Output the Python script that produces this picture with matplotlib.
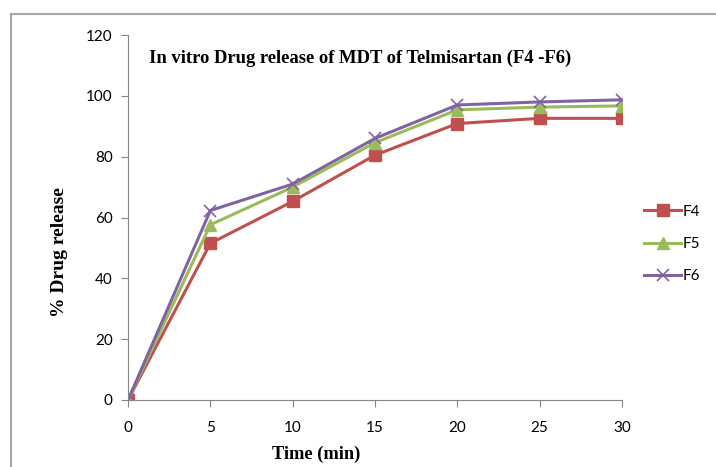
import matplotlib.pyplot as plt
from matplotlib.lines import Line2D

# Data
time_min = [0, 5, 10, 15, 20, 25, 30]
f4 = [0, 51.5, 65.3, 80.5, 90.9, 92.6, 92.6]
f5 = [0, 57.6, 70.0, 84.6, 95.4, 96.3, 96.7]
f6 = [0, 62.3, 71.0, 86.0, 97.0, 98.0, 98.7]

fig = plt.figure(figsize=(7.16, 4.67), dpi=100)
ax = fig.add_axes([0.1788, 0.1435, 0.6899, 0.7815])

ax.plot(time_min, f4, color='#C0504D', lw=2.2, marker='s', ms=8, label='F4')
ax.plot(time_min, f5, color='#9BBB59', lw=2.2, marker='^', ms=8, label='F5')
ax.plot(time_min, f6, color='#8064A2', lw=2.2, marker='x', ms=9, mew=1.2, label='F6')

ax.set_xlim(0, 30)
ax.set_ylim(0, 120)
ax.set_xticks(time_min)
ax.set_yticks(range(0, 121, 20))
for s in ['top', 'right']:
    ax.spines[s].set_visible(False)
for s in ['left', 'bottom']:
    ax.spines[s].set_color('#868686')
    ax.spines[s].set_clip_on(False)
ax.tick_params(colors='#868686', length=5, labelcolor='black', labelsize=11)
ax.tick_params(axis='x', pad=10)
ax.tick_params(axis='y', pad=6)
for lbl in ax.get_xticklabels() + ax.get_yticklabels():
    lbl.set_family('Lato')

ax.text(0.47, 0.937, 'In vitro Drug release of MDT of Telmisartan (F4 -F6)',
        transform=ax.transAxes, ha='center', va='center',
        family='Liberation Serif', weight='bold', fontsize=13.4)
ax.set_xlabel('Time (min)', family='Liberation Serif', weight='bold', fontsize=13.2)
ax.set_ylabel('% Drug release', family='Liberation Serif', weight='bold', fontsize=14)
ax.xaxis.set_label_coords(0.38, -0.124)
ax.yaxis.set_label_coords(-0.122, 0.405)

leg = ax.legend(loc='center left', bbox_to_anchor=(1.045, 0.427), frameon=False,
                fontsize=11, handlelength=2.4, handletextpad=0.1, labelspacing=1.2,
                borderaxespad=0, borderpad=0)
for t in leg.get_texts():
    t.set_family('Lato')

# grey frame around the chart area
fig.add_artist(Line2D([11 / 716, 1.0], [1 - 14 / 467, 1 - 14 / 467],
                      transform=fig.transFigure, color='#A6A6A6', lw=1.5))
fig.add_artist(Line2D([11 / 716, 11 / 716], [0.0, 1 - 14 / 467],
                      transform=fig.transFigure, color='#A6A6A6', lw=1.5))

fig.savefig('out.png', dpi=100)
